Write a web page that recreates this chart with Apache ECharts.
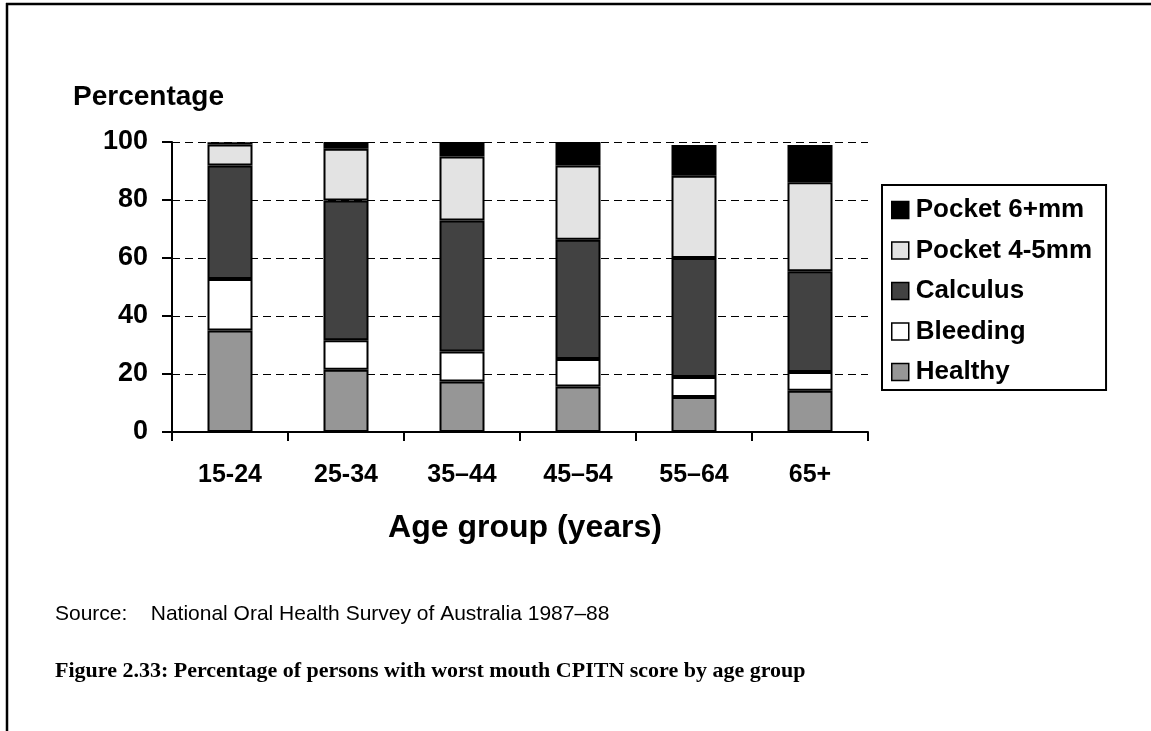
<!DOCTYPE html>
<html>
<head>
<meta charset="utf-8">
<script src="https://cdn.jsdelivr.net/npm/echarts@6/dist/echarts.min.js"></script>
<style>
html,body{margin:0;padding:0;background:#fff;}
#chart{width:1151px;height:731px;}
</style>
</head>
<body>
<div id="chart"></div>
<script>
var categories = ['15-24', '25-34', '35\u201344', '45\u201354', '55\u201364', '65+'];
var healthy  = [35.0, 21.5, 17.4, 15.7, 12.1, 14.2];
var bleeding = [17.8, 10.1, 10.4,  9.5,  6.9,  6.5];
var calculus = [39.1, 48.2, 45.1, 41.1, 41.0, 34.7];
var pocket45 = [ 7.2, 17.9, 22.1, 25.6, 28.4, 30.7];
var pocket6  = [ 0.8,  2.3,  5.0,  8.1, 10.6, 12.9];
var yTicks = [0, 20, 40, 60, 80, 100];

var FONT = '"Liberation Sans", Arial, sans-serif';
function bar(name, data, color) {
  return {
    name: name, type: 'bar', stack: 'total', data: data, barWidth: 45,
    itemStyle: { color: color, borderColor: '#000', borderWidth: 2 },
    emphasis: { disabled: true }
  };
}

var chart = echarts.init(document.getElementById('chart'));
chart.setOption({
  animation: false,
  backgroundColor: '#fff',
  grid: { left: 172, right: 283, top: 142, bottom: 299, containLabel: false },
  xAxis: {
    type: 'category', data: categories,
    axisLine: { lineStyle: { color: '#000', width: 2 } },
    axisTick: { show: true, length: 9, interval: 0, lineStyle: { color: '#000', width: 2 } },
    axisLabel: { color: '#000', fontFamily: FONT, fontWeight: 'bold', fontSize: 25, margin: 31, interval: 0 }
  },
  yAxis: {
    type: 'value', min: 0, max: 100, interval: 20,
    axisLine: { show: true, lineStyle: { color: '#000', width: 2 } },
    axisTick: { show: true, length: 10, lineStyle: { color: '#000', width: 2 } },
    axisLabel: { color: '#000', fontFamily: FONT, fontWeight: 'bold', fontSize: 27, margin: 24,
      formatter: function (v) { return yTicks.indexOf(v) >= 0 ? String(v) : ''; } },
    splitLine: { show: true, lineStyle: { color: '#000', width: 1, type: [8, 5] } }
  },
  legend: {
    orient: 'vertical', left: 882, top: 185,
    data: ['Pocket 6+mm', 'Pocket 4-5mm', 'Calculus', 'Bleeding', 'Healthy'],
    icon: 'rect',
    itemWidth: 17, itemHeight: 17, itemGap: 14.5,
    padding: [12, 14, 5, 9],
    borderColor: '#000', borderWidth: 2,
    selectedMode: false,
    itemStyle: { borderColor: '#000', borderWidth: 1.5 },
    textStyle: { color: '#000', fontFamily: FONT, fontWeight: 'bold', fontSize: 26, lineHeight: 25, padding: [0, 0, 0, 2] }
  },
  title: [
    { text: 'Percentage', left: 68, top: 78,
      textStyle: { color: '#000', fontFamily: FONT, fontWeight: 'bold', fontSize: 28 } },
    { text: 'Age group (years)', left: 520, textAlign: 'center', top: 507,
      textStyle: { color: '#000', fontFamily: FONT, fontWeight: 'bold', fontSize: 32 } },
    { text: 'Source:    National Oral Health Survey of Australia 1987\u201388', left: 50, top: 599,
      textStyle: { color: '#000', fontFamily: FONT, fontWeight: 'normal', fontSize: 21 } },
    { text: 'Figure 2.33: Percentage of persons with worst mouth CPITN score by age group', left: 50, top: 655,
      textStyle: { color: '#000', fontFamily: '"Liberation Serif", "DejaVu Serif", serif', fontWeight: 'bold', fontSize: 22 } }
  ],
  graphic: [
    { type: 'line', shape: { x1: 6, y1: 4, x2: 1151, y2: 4 }, style: { stroke: '#000', lineWidth: 2.5 } },
    { type: 'line', shape: { x1: 7, y1: 3, x2: 7, y2: 731 }, style: { stroke: '#000', lineWidth: 2.5 } }
  ],
  series: [
    bar('Healthy', healthy, '#969696'),
    bar('Bleeding', bleeding, '#ffffff'),
    bar('Calculus', calculus, '#424242'),
    bar('Pocket 4-5mm', pocket45, '#e3e3e3'),
    bar('Pocket 6+mm', pocket6, '#000000')
  ]
});
</script>
</body>
</html>
